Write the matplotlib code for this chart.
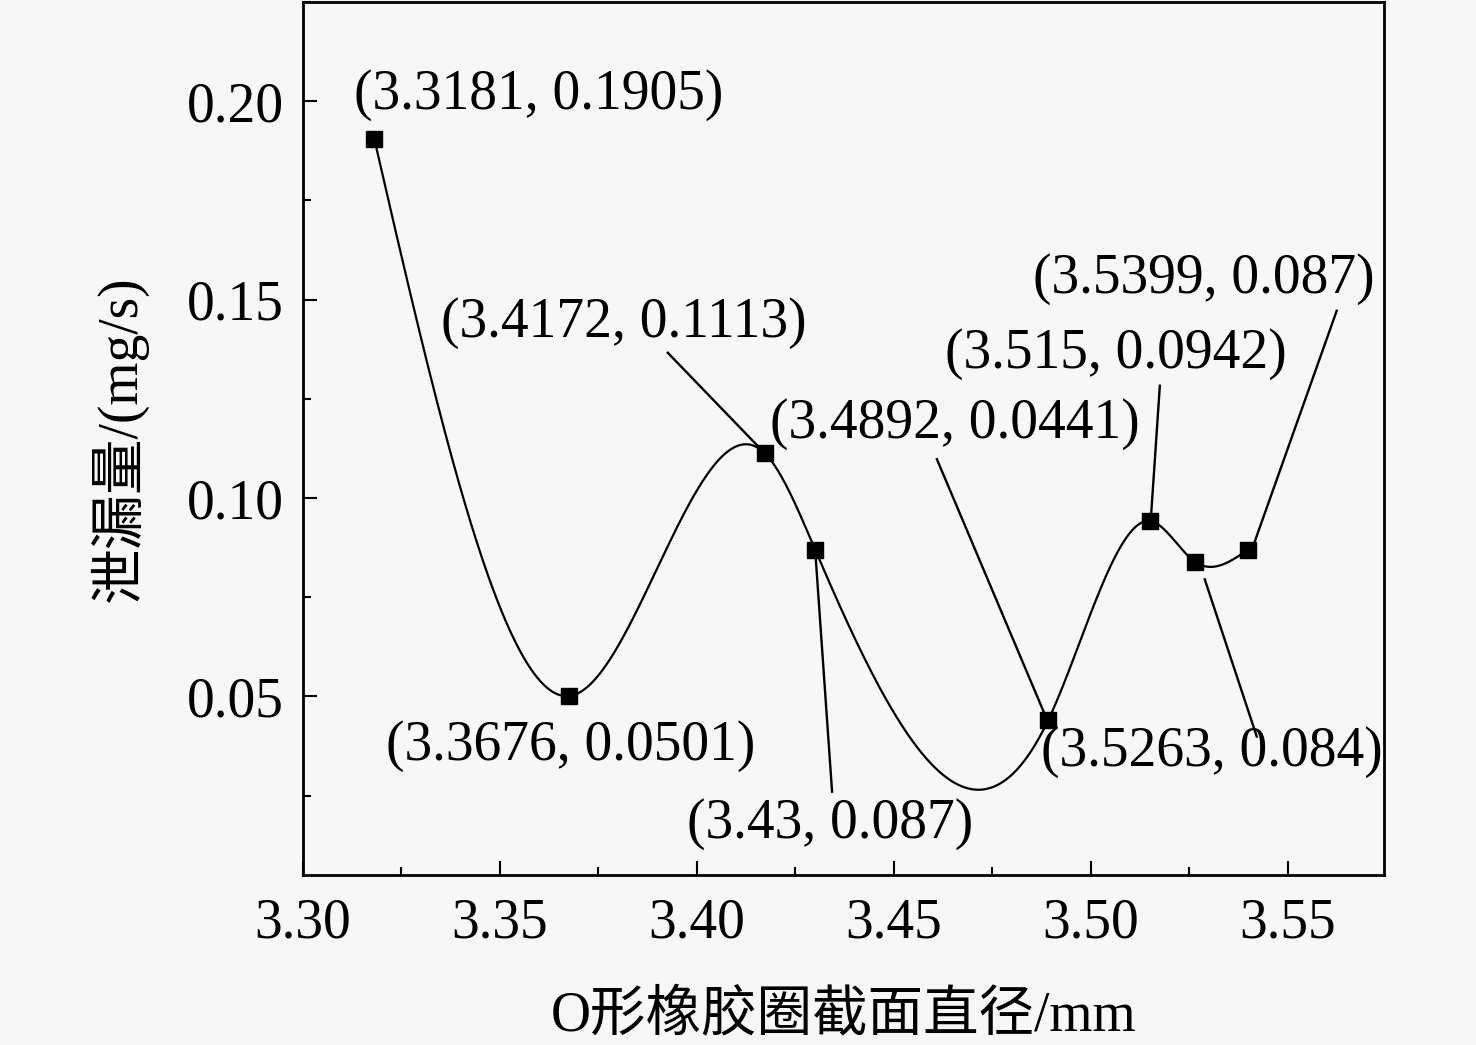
import numpy as np
import matplotlib
matplotlib.use("Agg")
import matplotlib.pyplot as plt
from matplotlib.ticker import MultipleLocator

plt.rcParams['font.family'] = ['Liberation Serif', 'Noto Sans CJK SC']
plt.rcParams['mathtext.fontset'] = 'stix'

# data
diameter = [3.3181, 3.3676, 3.4172, 3.43, 3.4892, 3.515, 3.5263, 3.5399]
leakage = [0.1905, 0.0501, 0.1113, 0.087, 0.0441, 0.0942, 0.084, 0.087]
point_labels = ["(3.3181, 0.1905)", "(3.3676, 0.0501)", "(3.4172, 0.1113)",
                "(3.43, 0.087)", "(3.4892, 0.0441)", "(3.515, 0.0942)",
                "(3.5263, 0.084)", "(3.5399, 0.087)"]

# label text centres and leader lines (start, end), data coords
label_pos = [(3.3597, 0.2015), (3.3680, 0.0374), (3.3815, 0.1442), (3.4338, 0.0179),
             (3.4655, 0.1187), (3.5063, 0.1364), (3.5307, 0.0361), (3.5287, 0.1553)]
leaders = [None, None,
           ((3.3926, 0.1366), (3.4172, 0.1113)),
           ((3.4300, 0.0870), (3.4343, 0.0260)),
           ((3.4609, 0.1098), (3.4885, 0.0450)),
           ((3.5175, 0.1283), (3.5152, 0.0945)),
           ((3.5289, 0.0795), (3.5421, 0.0399)),
           ((3.5624, 0.1472), (3.5409, 0.0871))]


def natural_spline(x, y, n=600):
    x = np.asarray(x, float)
    y = np.asarray(y, float)
    k = len(x)
    h = np.diff(x)
    A = np.zeros((k, k))
    b = np.zeros(k)
    A[0, 0] = A[-1, -1] = 1
    for i in range(1, k - 1):
        A[i, i - 1] = h[i - 1]
        A[i, i] = 2 * (h[i - 1] + h[i])
        A[i, i + 1] = h[i]
        b[i] = 3 * ((y[i + 1] - y[i]) / h[i] - (y[i] - y[i - 1]) / h[i - 1])
    c = np.linalg.solve(A, b)
    xs = np.linspace(x[0], x[-1], n)
    idx = np.clip(np.searchsorted(x, xs) - 1, 0, k - 2)
    dx = xs - x[idx]
    hi = h[idx]
    bi = (y[idx + 1] - y[idx]) / hi - hi * (2 * c[idx] + c[idx + 1]) / 3
    di = (c[idx + 1] - c[idx]) / (3 * hi)
    ys = y[idx] + bi * dx + c[idx] * dx ** 2 + di * dx ** 3
    return xs, ys


bg = '#f7f7f7'
fig = plt.figure(figsize=(14.76, 10.45), dpi=100, facecolor=bg)
ax = fig.add_axes([303 / 1476, 1 - 875 / 1045, (1384 - 303) / 1476, (875 - 2) / 1045])
ax.set_facecolor(bg)

xs, ys = natural_spline(diameter, leakage)
ax.plot(xs, ys, color='black', lw=1.6, zorder=2)
ax.plot(diameter, leakage, 's', color='black', ms=11, zorder=3)

for lab, pos, ld in zip(point_labels, label_pos, leaders):
    ax.text(pos[0], pos[1], lab, fontsize=40, ha='center', va='center', zorder=4)
    if ld is not None:
        (x0, y0), (x1, y1) = ld
        ax.plot([x0, x1], [y0, y1], color='black', lw=1.7, zorder=2)

ax.set_xlim(3.30, 3.5744)
ax.set_ylim(0.005, 0.225)
ax.xaxis.set_major_locator(MultipleLocator(0.05))
ax.xaxis.set_minor_locator(MultipleLocator(0.025))
ax.yaxis.set_major_locator(MultipleLocator(0.05))
ax.yaxis.set_minor_locator(MultipleLocator(0.025))
ax.xaxis.set_major_formatter(plt.FormatStrFormatter('%.2f'))
ax.yaxis.set_major_formatter(plt.FormatStrFormatter('%.2f'))
ax.tick_params(which='both', direction='in', width=1.5, labelsize=40,
               top=False, right=False)
ax.tick_params(which='major', length=10)
ax.tick_params(axis='x', which='major', pad=16)
ax.tick_params(axis='y', which='major', pad=14)
ax.tick_params(which='minor', length=6)
for s in ax.spines.values():
    s.set_linewidth(2)

ax.set_xlabel('O形橡胶圈截面直径/mm', fontsize=40, labelpad=30)
ax.set_ylabel('泄漏量/(mg/s)', fontsize=40, labelpad=28)

fig.savefig('out.png', dpi=100, facecolor=bg)
